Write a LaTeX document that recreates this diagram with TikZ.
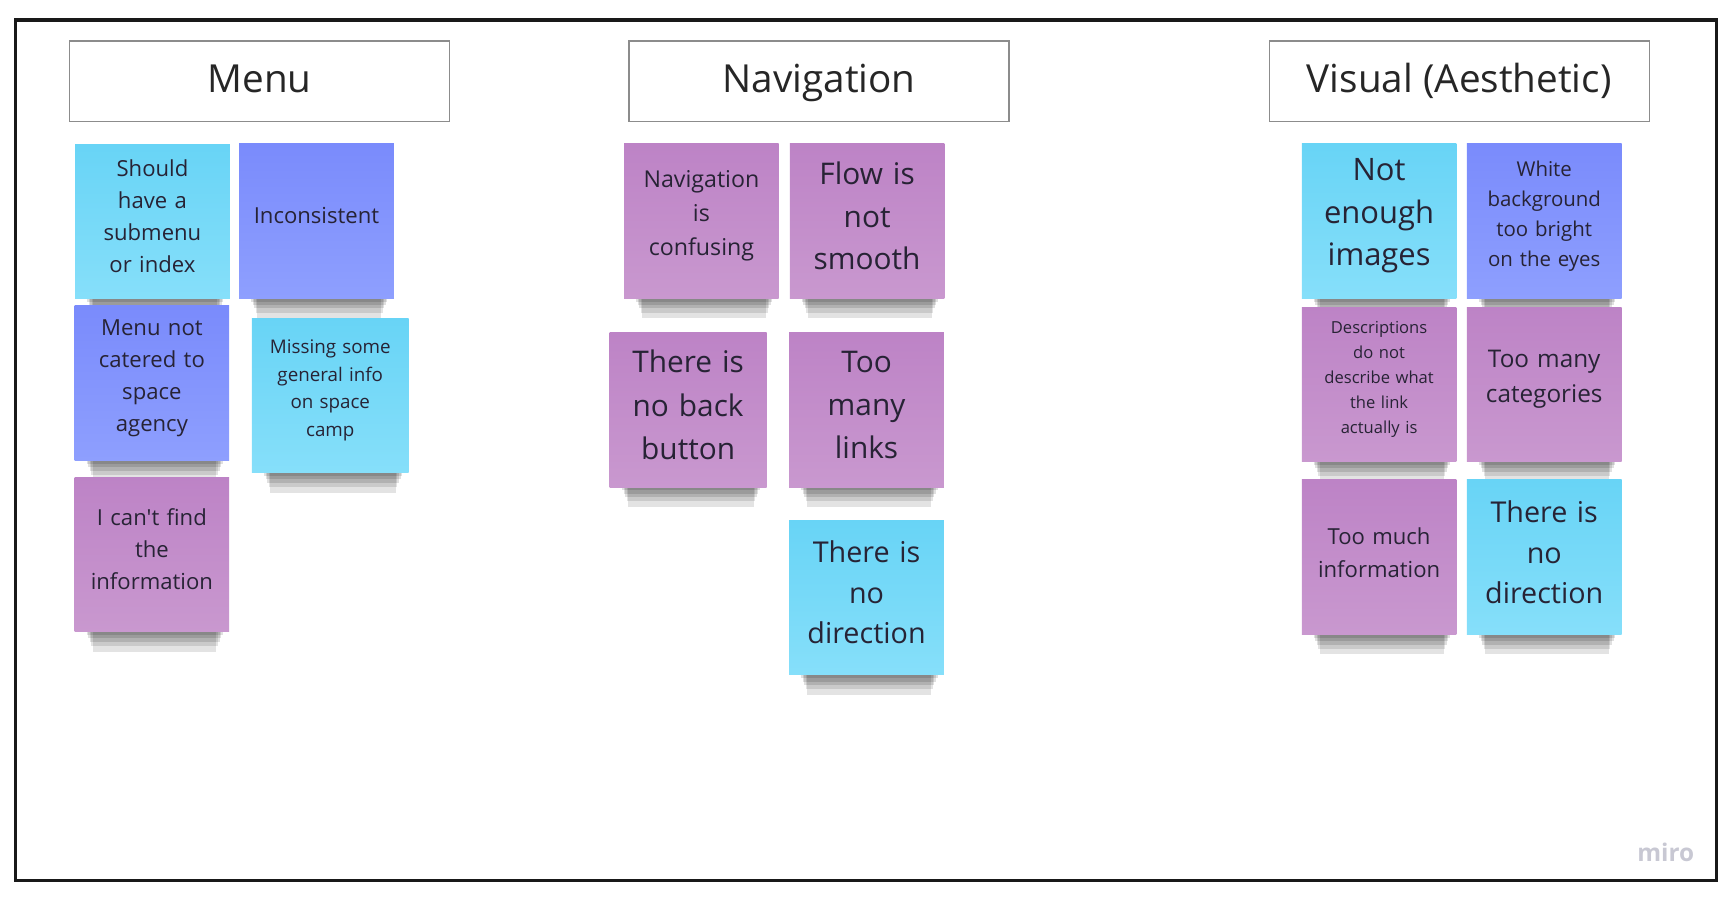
\documentclass[tikz,border=0pt]{standalone}
\usepackage{fontspec}
\setmainfont{Open Sans}[Ligatures=TeXOff]
\usetikzlibrary{shadows}

\definecolor{padcyan}{HTML}{68D4F6}
\definecolor{padcyanlow}{HTML}{86DFFA}
\definecolor{padblue}{HTML}{7A8BFC}
\definecolor{padbluelow}{HTML}{8E9FFE}
\definecolor{padviolet}{HTML}{BD83C6}
\definecolor{padvioletlow}{HTML}{C998CF}
\definecolor{padink}{HTML}{272335}
\definecolor{miroink}{HTML}{C8C8D3}

\tikzset{
  pad/.style={minimum width=70pt, minimum height=70pt, inner sep=0pt,
    text width=68pt, align=center, text=padink,
    execute at end node={\par\nointerlineskip\vbox to 4.5pt{}},
    general shadow={fill=black, opacity=.11, shadow xshift=1.5pt, shadow yshift=-20pt, shadow scale=.80},
    general shadow={fill=black, opacity=.11, shadow xshift=1.5pt, shadow yshift=-15.6pt, shadow scale=.82},
    general shadow={fill=black, opacity=.12, shadow xshift=1.5pt, shadow yshift=-12pt, shadow scale=.84},
    general shadow={fill=black, opacity=.12, shadow xshift=1.5pt, shadow yshift=-9.2pt, shadow scale=.86},
    general shadow={fill=black, opacity=.12, shadow xshift=1.5pt, shadow yshift=-6.5pt, shadow scale=.88}},
  cyanpad/.style={pad, top color=padcyan, bottom color=padcyanlow},
  bluepad/.style={pad, top color=padblue, bottom color=padbluelow},
  violetpad/.style={pad, top color=padviolet, bottom color=padvioletlow},
  header/.style={draw=black!45, line width=0.6pt, minimum width=172pt, minimum height=36.5pt,
    inner sep=0pt, text height=13.5pt, text depth=3.5pt, text=black!85,
    font=\fontsize{17.5}{21}\selectfont}
}

\begin{document}
\begin{tikzpicture}[x=0.5pt, y=-0.5pt]
  \useasboundingbox (0,0) rectangle (1568,816);
  % board
  \draw [line width=1.5pt, black!90] (14,18) rectangle (1554,797);

  % headers
  \node [header] (menu) at (235,73.5) {Menu};
  \node [header] (navigation) at (741.5,73.5) {Navigation};
  \node [header] (visual) at (1321,73.5) {Visual (Aesthetic)};

  % Menu
  \node [cyanpad, font=\fontsize{10}{14.5}\selectfont] (submenu) at (138,200.5)
    {Should\\have a\\submenu\\or index};
  \node [bluepad, font=\fontsize{10}{14.5}\selectfont] (inconsistent) at (286.5,200)
    {Inconsistent};
  \node [bluepad, font=\fontsize{10}{14.5}\selectfont] (catered) at (137.5,347)
    {Menu not\\catered to\\space\\agency};
  \node [cyanpad, minimum width=71pt, font=\fontsize{8.5}{12.5}\selectfont] (missing) at (299,358)
    {Missing some\\general info\\on space\\camp};
  \node [violetpad, font=\fontsize{10}{14.5}\selectfont] (cantfind) at (137.5,502)
    {I can't find\\the\\information};

  % Navigation
  \node [violetpad, font=\fontsize{10.5}{15.5}\selectfont] (confusing) at (635,200)
    {Navigation\\is\\confusing};
  \node [violetpad, font=\fontsize{13.5}{19.3}\selectfont] (flow) at (785,200)
    {Flow is\\not\\smooth};
  \node [violetpad, minimum width=71pt, font=\fontsize{13.5}{19.5}\selectfont] (back) at (623,371)
    {There is\\no back\\button};
  \node [violetpad, font=\fontsize{13.5}{19.5}\selectfont] (links) at (784.5,371)
    {Too\\many\\links};
  \node [cyanpad, font=\fontsize{13}{18.3}\selectfont] (navdirection) at (784.5,541)
    {There is\\no\\direction};

  % Visual
  \node [cyanpad, font=\fontsize{14}{19.3}\selectfont] (images) at (1248.5,200)
    {Not\\enough\\images};
  \node [bluepad, font=\fontsize{9.25}{13.5}\selectfont] (white) at (1398,200)
    {White\\background\\too bright\\on the eyes};
  \node [violetpad, font=\fontsize{7.5}{11.25}\selectfont] (descriptions) at (1248.5,348)
    {Descriptions\\do not\\describe what\\the link\\actually is};
  \node [violetpad, font=\fontsize{11}{16}\selectfont] (categories) at (1398,348)
    {Too many\\categories};
  \node [violetpad, font=\fontsize{10}{15}\selectfont] (toomuch) at (1248.5,504.5)
    {Too much\\information};
  \node [cyanpad, font=\fontsize{13}{18.3}\selectfont] (visdirection) at (1398,504.5)
    {There is\\no\\direction};

  % watermark
  \node [text=miroink, font=\bfseries\fontsize{11}{13}\selectfont] (miro) at (1508,772) {miro};
\end{tikzpicture}
\end{document}
